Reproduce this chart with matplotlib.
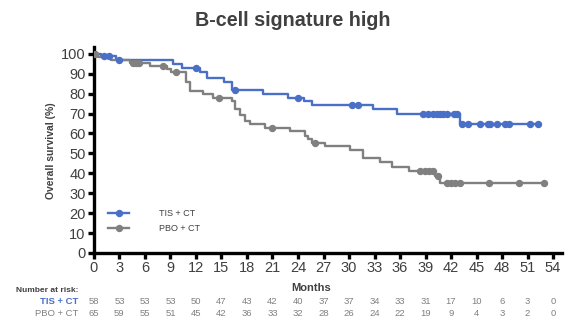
import numpy as np
import matplotlib
matplotlib.use("Agg")
import matplotlib.pyplot as plt

# ------------------------------
# Data
# ------------------------------
tis_times = [0, 0.8, 2.6, 9.3, 10.3, 12.5, 13.3, 15.3, 16.2, 19.9, 22.8, 24.7, 25.6, 32.8, 35.6, 43.1]
tis_surv = [100, 99, 97, 95, 93, 91, 88, 86, 82, 80, 78, 76.5, 74.5, 72.2, 69.8, 64.8]
tis_censor = [1.2, 1.8, 3.0, 12.0, 16.6, 24.0, 30.3, 31.1, 38.7, 39.3, 39.9, 40.3, 40.7,
              41.1, 41.5, 42.3, 42.7, 43.3, 44.0, 45.4, 46.3, 46.6, 47.4, 48.3, 48.8, 51.3, 52.2]
tis_end = 52.3

pbo_times = [0, 0.5, 2.0, 4.2, 6.6, 8.6, 9.1, 10.8, 11.3, 12.8, 14.0, 16.2, 16.6, 17.2, 17.8,
             18.4, 20.1, 23.1, 24.8, 25.2, 25.6, 27.2, 30.1, 31.6, 33.6, 35.0, 37.0, 40.1, 40.7]
pbo_surv = [100, 98.5, 97, 95.4, 93.8, 92.3, 90.8, 86, 81.5, 80, 77.7, 76.2, 72.3, 69.2, 66.2,
            64.6, 62.8, 61.3, 58.5, 57, 55.3, 53.5, 51.5, 47.5, 45.5, 43.4, 41.3, 38.8, 35.0]
pbo_censor = [0.1, 4.6, 5.0, 5.3, 8.1, 9.6, 14.7, 20.9, 26.0, 38.4, 38.9, 39.4, 39.9, 40.5,
              41.5, 42.0, 42.5, 43.0, 46.5, 50.0, 52.9]
pbo_end = 53.0

risk_ticks = list(range(0, 55, 3))
tis_risk = [58, 53, 53, 53, 50, 47, 43, 42, 40, 37, 37, 34, 33, 31, 17, 10, 6, 3, 0]
pbo_risk = [65, 59, 55, 51, 45, 42, 36, 33, 32, 28, 26, 24, 22, 19, 9, 4, 3, 2, 0]

blue = "#4A6FC6"
gray = "#808080"
txt = "#404040"

plt.rcParams['font.family'] = ['Liberation Sans Narrow', 'Liberation Sans', 'DejaVu Sans']

fig = plt.figure(figsize=(5.73, 3.21), dpi=100)
ax = fig.add_axes([0.164, 0.212, 0.816, 0.642])


def step_at(times, surv, t):
    idx = np.searchsorted(times, t, side="right") - 1
    return np.array(surv)[idx]


for times, surv, cens, end, col, lab in [
        (tis_times, tis_surv, tis_censor, tis_end, blue, "TIS + CT"),
        (pbo_times, pbo_surv, pbo_censor, pbo_end, gray, "PBO + CT")]:
    xs = list(times) + [end]
    ys = list(surv) + [surv[-1]]
    ax.step(xs, ys, where="post", color=col, lw=1.7, zorder=3)
    ax.plot(cens, step_at(times, surv, cens), "o", color=col, ms=4.3, zorder=4)
    ax.plot([], [], "-o", color=col, lw=1.7, ms=4.3, label=lab)

ax.set_xlim(0, 55)
ax.set_ylim(0, 103.5)
ax.set_xticks(risk_ticks)
ax.set_yticks(range(0, 101, 10))
for s in ["top", "right"]:
    ax.spines[s].set_visible(False)
for s in ["left", "bottom"]:
    ax.spines[s].set_linewidth(2.4)
ax.tick_params(axis="both", width=2.4, length=4, color="black", labelcolor=txt, labelsize=10.5, pad=2)

leg = ax.legend(loc="lower left", bbox_to_anchor=(0.012, 0.055), frameon=False, fontsize=6.5,
                handlelength=2.4, handletextpad=3.3, labelspacing=0.7, labelcolor=txt)

# title / labels
fig.text(0.511, 0.935, "B-cell signature high", ha="center", va="center", fontsize=14.2,
         fontweight="bold", color=txt, family=['Liberation Sans', 'DejaVu Sans'])
fig.text(0.089, 0.53, "Overall survival (%)", ha="center", va="center", rotation=90,
         fontsize=7.5, fontweight="bold", color=txt, family=['Liberation Sans', 'DejaVu Sans'])

# number at risk table
tr = ax.get_xaxis_transform()
ax.text(25.5, -0.17, "Months", transform=tr, ha="center", va="center", fontsize=8,
        fontweight="bold", color=txt, family=['Liberation Sans', 'DejaVu Sans'])
fig.text(0.136, 0.096, "Number at risk:", ha="right", va="center", fontsize=6,
         fontweight="bold", color=txt)
fig.text(0.136, 0.060, "TIS + CT", ha="right", va="center", fontsize=6.8,
         fontweight="bold", color=blue)
fig.text(0.136, 0.023, "PBO + CT", ha="right", va="center", fontsize=6.8, color=gray)
for t, a, b in zip(risk_ticks, tis_risk, pbo_risk):
    ax.text(t, -0.236, str(a), transform=tr, ha="center", va="center", fontsize=6.8, color=gray)
    ax.text(t, -0.294, str(b), transform=tr, ha="center", va="center", fontsize=6.8, color=gray)

fig.savefig("out.png", dpi=100)
